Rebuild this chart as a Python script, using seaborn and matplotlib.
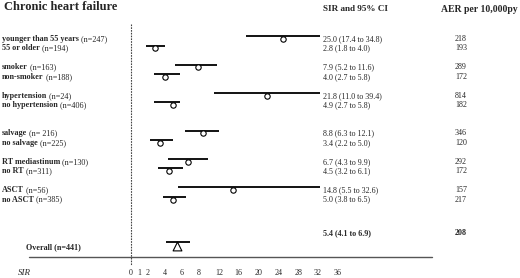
import numpy as np
import pandas as pd
import matplotlib
matplotlib.use("Agg")
import matplotlib.pyplot as plt
import matplotlib.transforms as mtransforms
import seaborn as sns

# data
groups = ["younger than 55 years", "55 or older", "smoker", "non-smoker",
          "hypertension", "no hypertension", "salvage", "no salvage",
          "RT mediastinum", "no RT", "ASCT", "no ASCT"]
n_text = ["(n=247)", "(n=194)", "(n=163)", "(n=188)", "(n=24)", "(n=406)",
          "(n= 216)", "(n=225)", "(n=130)", "(n=311)", "(n=56)", "(n=385)"]
sir = [25.0, 2.8, 7.9, 4.0, 21.8, 4.9, 8.8, 3.4, 6.7, 4.5, 14.8, 5.0]
ci_low = [17.4, 1.8, 5.2, 2.7, 11.0, 2.7, 6.3, 2.2, 4.3, 3.2, 5.5, 3.8]
ci_high = [34.8, 4.0, 11.6, 5.8, 39.4, 5.8, 12.1, 5.0, 9.9, 6.1, 32.6, 6.5]
aer = [218, 193, 289, 172, 814, 182, 346, 120, 292, 172, 157, 217]
overall = {"sir": 5.4, "low": 4.1, "high": 6.9, "aer": 208, "n": 441}
xticks = [0, 1, 2, 4, 6, 8, 12, 16, 20, 24, 28, 32, 36]

# row layout (blank rows between groups)
rows = [0, 1, 3, 4, 6, 7, 10, 11, 13, 14, 16, 17]
overall_row = 22

df = pd.DataFrame({"group": groups, "n": n_text, "sir": sir, "low": ci_low,
                   "high": ci_high, "aer": aer, "row": rows})

sns.set_theme(style="white")
plt.rcParams["font.family"] = ["Liberation Serif", "DejaVu Serif"]

W, H = 520, 278
fig = plt.figure(figsize=(W / 100, H / 100), dpi=100)
ax = fig.add_axes([131 / W, 13 / H, 301 / W, 265 / H])


# axis compressed above 8, like the original
def fwd(v):
    v = np.asarray(v, dtype=float)
    return np.where(v <= 8, v, 8 + (v - 8) * 0.5835)


def inv(u):
    u = np.asarray(u, dtype=float)
    return np.where(u <= 8, u, 8 + (u - 8) / 0.5835)


ax.set_xscale("function", functions=(fwd, inv))
ax.set_xlim(0, 54.98)
ax.set_ylim(23.92, -4.13)

# CI lines stop before the text columns
clip = mtransforms.TransformedBbox(mtransforms.Bbox([[0, 0], [320 / W, 1]]),
                                   fig.transFigure)

# confidence intervals and point estimates
ci = ax.hlines(df["row"] - 0.3, df["low"], df["high"], color="black", lw=1.3,
               zorder=2)
ci.set_clip_box(clip)
sns.scatterplot(data=df, x="sir", y="row", marker="o", s=15,
                facecolor="white", edgecolor="black", linewidth=0.8,
                zorder=3, ax=ax)
ax.hlines(overall_row - 0.5, overall["low"], overall["high"], color="black",
          lw=1.3, zorder=2)
ax.scatter([overall["sir"]], [overall_row - 0.05], marker="^", s=40,
           facecolor="white", edgecolor="black", linewidth=0.8, zorder=3)

# reference line at 0 and bottom rule
ax.plot([0, 0], [-1.6, 23.9], color="#444444", lw=0.8, ls=(0, (1.5, 1)),
        clip_on=False)
ax.plot([(29 - 131) / 301, 1.0], [23.07, 23.07], color="#555555", lw=1.0,
        transform=mtransforms.blended_transform_factory(ax.transAxes, ax.transData),
        clip_on=False)

ax.set_xticks(xticks)
ax.set_xticklabels([str(t) for t in xticks], fontsize=5.8)
ax.set_yticks([])
ax.tick_params(axis="x", length=0, pad=3)
ax.set_xlabel("")
ax.set_ylabel("")
for s in ax.spines.values():
    s.set_visible(False)

tr = mtransforms.blended_transform_factory(fig.transFigure, ax.transData)

# labels on the left, values on the right
for _, r in df.iterrows():
    t = ax.text(2 / W, r["row"], r["group"], transform=tr, fontsize=5.9,
                fontweight="bold", va="center", ha="left")
    ax.annotate(" " + r["n"], xy=(1, 0), xycoords=t, fontsize=5.9,
                va="bottom", ha="left")
    ax.text(323 / W, r["row"], f"{r['sir']:.1f} ({r['low']:.1f} to {r['high']:.1f})",
            transform=tr, fontsize=5.8, va="center", ha="left")
    ax.text(455 / W, r["row"], str(r["aer"]), transform=tr, fontsize=5.8,
            va="center", ha="left")

ax.text(26 / W, overall_row, f"Overall (n={overall['n']})", transform=tr,
        fontsize=5.9, fontweight="bold", va="center", ha="left")
ax.text(323 / W, 20.5, f"{overall['sir']:.1f} ({overall['low']:.1f} to {overall['high']:.1f})",
        transform=tr, fontsize=5.8, fontweight="bold", va="center", ha="left")
ax.text(455 / W, 20.5, str(overall["aer"]), transform=tr, fontsize=5.8,
        fontweight="bold", va="center", ha="left")

# headers
fig.text(4 / W, 1 - 7.5 / H, "Chronic heart failure", fontsize=9,
         fontweight="bold", va="center", ha="left")
fig.text(323 / W, 1 - 9 / H, "SIR and 95% CI", fontsize=6.6,
         fontweight="bold", va="center", ha="left")
fig.text(441 / W, 1 - 9 / H, "AER per 10,000py", fontsize=7,
         fontweight="bold", va="center", ha="left")
fig.text(18 / W, 1 - 273 / H, "SIR", fontsize=6.5, fontstyle="italic",
         va="center", ha="left")

fig.savefig("out.png", dpi=100)
